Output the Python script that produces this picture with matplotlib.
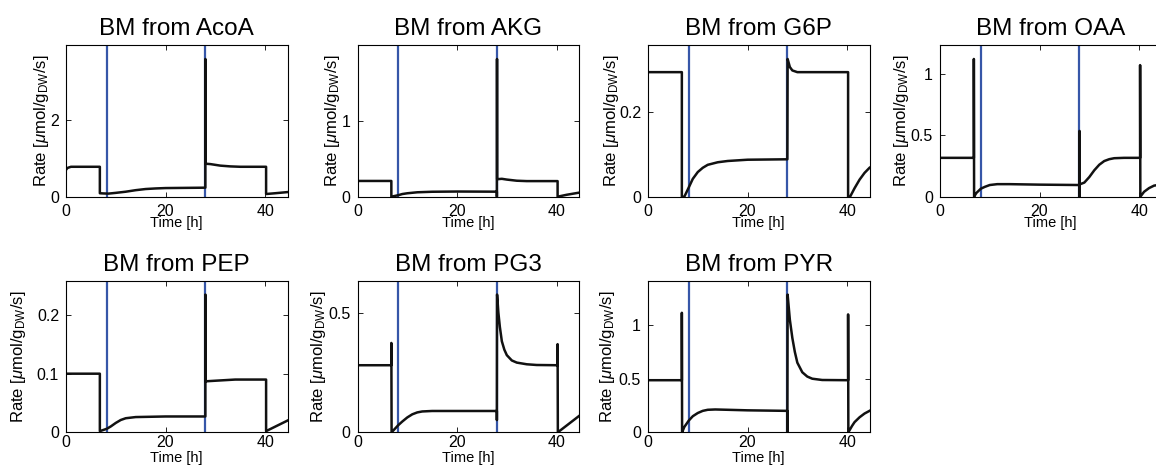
import matplotlib
matplotlib.use("Agg")
import matplotlib.pyplot as plt
from matplotlib.ticker import FuncFormatter

plt.rcParams["font.family"] = ["Liberation Sans", "DejaVu Sans"]
plt.rcParams["mathtext.fontset"] = "custom"
plt.rcParams["mathtext.rm"] = "Liberation Sans"
plt.rcParams["mathtext.it"] = "Liberation Sans:italic"

titles = ["BM from AcoA", "BM from AKG", "BM from G6P", "BM from OAA",
          "BM from PEP", "BM from PG3", "BM from PYR"]

# switching times [h] marked in blue
switch_times = [8.2, 28.0]
t_end = 44.5

# rate traces, time [h] and rate [umol/gDW/s]
acoa_t = [0, 0.3, 1, 6.8, 6.8, 7.5, 8.5, 10, 12, 14, 16, 18, 20, 24, 28, 28.0, 28.05,
          29, 30, 31, 33, 35, 40.2, 40.2, 42, 44.5]
acoa_v = [0.70, 0.75, 0.78, 0.78, 0.09, 0.085, 0.08, 0.1, 0.13, 0.17, 0.2, 0.215,
          0.225, 0.23, 0.235, 3.59, 0.86, 0.85, 0.83, 0.81, 0.79, 0.78, 0.78, 0.07,
          0.09, 0.12]

akg_t = [0, 6.8, 6.8, 8.2, 9, 10, 12, 15, 20, 28, 28.0, 28.03, 28.06, 29, 30, 32, 34,
         40.2, 40.2, 42, 44.5]
akg_v = [0.207, 0.207, 0.0, 0.02, 0.035, 0.045, 0.058, 0.065, 0.068, 0.066, 0.0,
         1.81, 0.23, 0.235, 0.225, 0.21, 0.205, 0.205, 0.0, 0.025, 0.053]

g6p_t = [0, 6.8, 6.8, 7.3, 8.2, 9, 10, 11, 12, 14, 16, 20, 28, 28.05, 28.5, 29, 30,
         32, 40.2, 40.2, 40.6, 41.5, 42.5, 43.5, 44.5]
g6p_v = [0.293, 0.293, 0.0, 0.0, 0.022, 0.042, 0.058, 0.068, 0.075, 0.081, 0.084,
         0.087, 0.088, 0.324, 0.305, 0.297, 0.293, 0.293, 0.293, 0.0, 0.0, 0.02,
         0.04, 0.056, 0.068]

oaa_t = [0, 6.8, 6.8, 6.85, 7.3, 8.2, 9, 10, 11.5, 14, 20, 28, 28.0, 28.03, 28.06,
         29, 30, 31, 32, 33, 34, 35, 37, 40.2, 40.2, 40.25, 41, 42, 43, 44.5]
oaa_v = [0.316, 0.316, 1.12, 0.0, 0.03, 0.065, 0.08, 0.095, 0.102, 0.102, 0.098,
         0.095, 0.0, 0.535, 0.1, 0.115, 0.16, 0.215, 0.26, 0.29, 0.305, 0.313, 0.316,
         0.316, 1.07, 0.0, 0.04, 0.07, 0.09, 0.1]

pep_t = [0, 6.8, 6.8, 8.2, 9, 10, 11, 12, 14, 20, 28, 28.0, 28.05, 30, 34, 40.2, 40.2,
         44.5]
pep_v = [0.1, 0.1, 0.002, 0.006, 0.01, 0.016, 0.021, 0.024, 0.026, 0.027, 0.027,
         0.235, 0.087, 0.088, 0.09, 0.09, 0.002, 0.02]

pg3_t = [0, 6.8, 6.8, 6.85, 8.2, 9, 10, 11, 12, 13, 15, 28, 28.0, 28.03, 28.05, 28.3,
         28.6, 29, 29.5, 30, 31, 32, 34, 36, 40.2, 40.2, 40.25, 44.5]
pg3_v = [0.28, 0.28, 0.373, 0.0, 0.03, 0.045, 0.062, 0.075, 0.083, 0.087, 0.089,
         0.089, 0.051, 0.575, 0.575, 0.5, 0.44, 0.38, 0.345, 0.322, 0.3, 0.291,
         0.284, 0.281, 0.28, 0.368, 0.0, 0.068]

pyr_t = [0, 6.8, 6.8, 6.85, 7.3, 8.2, 9, 10, 11, 12, 13.5, 16, 20, 28, 28.0, 28.05,
         28.5, 29, 29.5, 30, 31, 32, 33, 35, 40.2, 40.2, 40.25, 41, 41.5, 42.5, 43.5,
         44.5]
pyr_v = [0.486, 0.486, 1.115, 0.0, 0.05, 0.11, 0.15, 0.18, 0.2, 0.21, 0.213, 0.21,
         0.205, 0.2, 0.0, 1.285, 1.05, 0.88, 0.75, 0.65, 0.56, 0.52, 0.5, 0.488,
         0.486, 1.1, 0.0, 0.06, 0.095, 0.14, 0.175, 0.2]

times = [acoa_t, akg_t, g6p_t, oaa_t, pep_t, pg3_t, pyr_t]
rates = [acoa_v, akg_v, g6p_v, oaa_v, pep_v, pg3_v, pyr_v]
yticks = [[0, 2], [0, 1], [0, 0.2], [0, 0.5, 1], [0, 0.1, 0.2], [0, 0.5],
          [0, 0.5, 1]]

# layout in pixels
W, H = 1156, 470
col_left = [66, 357.5, 648, 940]
row_bottom = [196.7, 432.3]
ax_w, ax_h = 221.5, 151.5
ylabel_gap = [34, 35, 46, 48, 57, 49, 50]

fig = plt.figure(figsize=(W / 100, H / 100), dpi=100)

for i in range(7):
    row = i // 4
    col = i % 4
    ax = fig.add_axes([col_left[col] / W, (H - row_bottom[row]) / H, ax_w / W, ax_h / H])

    for ts in switch_times:
        ax.axvline(ts, color="#3656a8", lw=1.6, zorder=1)
    ax.plot(times[i], rates[i], color="#111111", lw=1.8, zorder=2)

    ax.set_xlim(0, t_end)
    ax.set_ylim(0, 1.1 * max(rates[i]))
    ax.set_xticks([0, 20, 40])
    ax.set_yticks(yticks[i])
    ax.yaxis.set_major_formatter(FuncFormatter(lambda v, p: f"{v:g}"))
    ax.tick_params(direction="in", top=True, right=True, length=3.5, width=0.6,
                   labelsize=11.5)
    ax.tick_params(axis="x", pad=5 if row == 0 else 2)
    ax.tick_params(axis="y", pad=5)
    for s in ax.spines.values():
        s.set_linewidth(0.8)

    ax.set_title(titles[i], fontsize=17.5, pad=7)
    ax.set_xlabel("Time [h]", fontsize=10.5)
    ax.xaxis.set_label_coords(0.5, -0.13 if row == 0 else -0.122)
    ax.set_ylabel(r"Rate [$\mu$mol/g$_{\mathrm{DW}}$/s]", fontsize=12, va="top")
    ax.yaxis.set_label_coords(-ylabel_gap[i] / ax_w, 0.5)

plt.savefig("out.png", dpi=100)
